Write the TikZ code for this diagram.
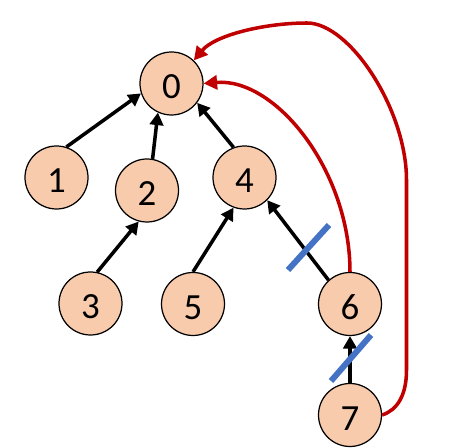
\documentclass[tikz,border=0pt]{standalone}
\usepackage{fontspec}
\setmainfont{Carlito}
\usepackage{xcolor}
\usepackage{tikz}
\usetikzlibrary{arrows.meta,positioning}
\definecolor{nodeFill}{HTML}{F8CBAD}
\definecolor{backRed}{HTML}{C00000}
\definecolor{cutBlue}{HTML}{4472C4}

\begin{document}
\begin{tikzpicture}[
  every node/.style={font=\fontsize{21}{25}\selectfont, align=center},
  vert/.style={circle,draw=black,line width=0.7pt,fill=nodeFill,minimum size=1.26cm,inner sep=0pt,text height=17.5pt,text depth=0pt},
  arrow/.style={-{Triangle[length=2.5mm,width=2.7mm]},line width=2pt,color=black},
  back/.style={-{Triangle[length=2.7mm,width=2.8mm]},line width=2pt,color=backRed},
  cut/.style={line width=3.4pt,color=cutBlue}
]
\useasboundingbox (0,0) rectangle (9.38,-8.96);

% Vertices
\node[vert] (n0) at (3.43,-1.67) {0};
\node[vert] (n1) at (1.13,-3.55) {1};
\node[vert] (n2) at (2.94,-3.81) {2};
\node[vert] (n4) at (4.89,-3.55) {4};
\node[vert] (n3) at (1.81,-6.07) {3};
\node[vert] (n5) at (3.86,-6.08) {5};
\node[vert] (n6) at (7.00,-6.08) {6};
\node[vert] (n7) at (7.00,-8.30) {7};

% Aristas del arbol (hijo -> padre)
\draw[arrow] (n1.72) -- (n0.198);
\draw[arrow] (n2.80) -- (n0.245);
\draw[arrow] (n4.110) -- (n0.323);
\draw[arrow] (n3.78) -- (n2.255);
\draw[arrow] (n5.90) -- (n4.250);
\draw[arrow] (n6.132) -- (n4.315);
\draw[arrow] (n7.north) -- (n6.south);

% Cortes
\draw[cut] (5.76,-5.40) -- (6.58,-4.50);
\draw[cut] (6.62,-7.62) -- (7.42,-6.70);

% Enlaces a la raiz
\draw[back] (n6.north) .. controls (7.0,-3.4) and (5.5,-1.55) .. (n0.east);
\draw[back] (n7.east) .. controls (7.95,-8.2) and (8.13,-7.9) .. (8.13,-7.4)
  -- (8.13,-3.6) .. controls (8.13,-2.2) and (7.0,-0.46) .. (6.14,-0.46)
  .. controls (5.3,-0.46) and (4.3,-0.7) .. (n0.46);
\end{tikzpicture}
\end{document}
